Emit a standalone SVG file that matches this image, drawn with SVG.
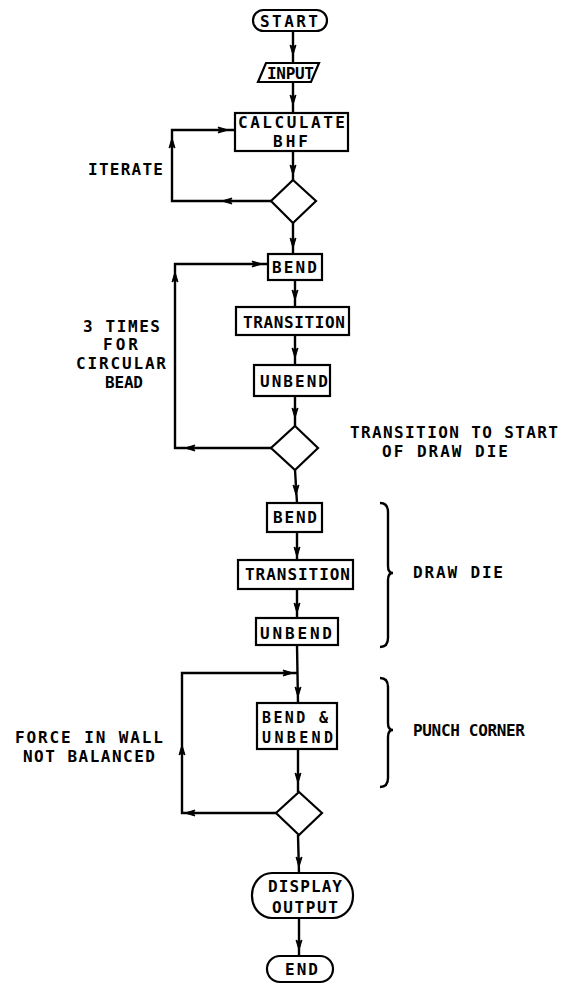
<svg xmlns="http://www.w3.org/2000/svg" xmlns:xlink="http://www.w3.org/1999/xlink" width="563" height="984" viewBox="0 0 563 984">
<style>
.bg{fill:#fff}
.n{fill:#fff;stroke:#000;stroke-width:2.2}
.c{fill:none;stroke:#000;stroke-width:2.4;stroke-linejoin:miter}
.t{font-family:"DejaVu Sans Mono","Liberation Mono",monospace;font-weight:bold;font-size:16px;fill:#000}
.s{font-size:15px}
</style>
<defs>
<path id="ah" d="M5,0 L-5,-3 L-3,0 L-5,3 Z" fill="#000" stroke="#000" stroke-width="1"/>
</defs>
<rect class="bg" x="0" y="0" width="563" height="984"/>
<g id="connectors">
<path class="c" d="M293,31 V63"/>
<path class="c" d="M293,82 V113"/>
<path class="c" d="M293,151 V180"/>
<path class="c" d="M271,201 H172 V130 H235"/>
<path class="c" d="M293,223 V254"/>
<path class="c" d="M295,280 V307"/>
<path class="c" d="M295,335 V365"/>
<path class="c" d="M295,396 V426"/>
<path class="c" d="M271,448 H175 V264 H268"/>
<path class="c" d="M295,470 L297,503"/>
<path class="c" d="M297,532 V560"/>
<path class="c" d="M297,589 V618"/>
<path class="c" d="M297,645 L298,703"/>
<path class="c" d="M276,813 H182 V673 H297"/>
<path class="c" d="M298,749 V792"/>
<path class="c" d="M298,835 L299,873"/>
<path class="c" d="M299,918 V956"/>
<use xlink:href="#ah" transform="translate(293,50) rotate(90)"/>
<use xlink:href="#ah" transform="translate(293,100) rotate(90)"/>
<use xlink:href="#ah" transform="translate(293,170) rotate(90)"/>
<use xlink:href="#ah" transform="translate(227,201) rotate(180)"/>
<use xlink:href="#ah" transform="translate(172,143) rotate(-90)"/>
<use xlink:href="#ah" transform="translate(223,130)"/>
<use xlink:href="#ah" transform="translate(293,243) rotate(90)"/>
<use xlink:href="#ah" transform="translate(295,295) rotate(90)"/>
<use xlink:href="#ah" transform="translate(295,353) rotate(90)"/>
<use xlink:href="#ah" transform="translate(295,413) rotate(90)"/>
<use xlink:href="#ah" transform="translate(190,448) rotate(180)"/>
<use xlink:href="#ah" transform="translate(175,277) rotate(-90)"/>
<use xlink:href="#ah" transform="translate(257,264)"/>
<use xlink:href="#ah" transform="translate(296,490) rotate(90)"/>
<use xlink:href="#ah" transform="translate(297,552) rotate(90)"/>
<use xlink:href="#ah" transform="translate(297,608) rotate(90)"/>
<use xlink:href="#ah" transform="translate(298,692) rotate(90)"/>
<use xlink:href="#ah" transform="translate(190,813) rotate(180)"/>
<use xlink:href="#ah" transform="translate(182,750) rotate(-90)"/>
<use xlink:href="#ah" transform="translate(288,673)"/>
<use xlink:href="#ah" transform="translate(298,778) rotate(90)"/>
<use xlink:href="#ah" transform="translate(299,862) rotate(90)"/>
<use xlink:href="#ah" transform="translate(299,945) rotate(90)"/>
</g>
<g id="start">
<rect class="n" x="253" y="10" width="74" height="21" rx="10.5"/>
<text class="t" x="260" y="27" textLength="58" lengthAdjust="spacing">START</text>
</g>
<g id="input">
<path class="n" d="M266,63 H319 L311,82 H258 Z"/>
<text class="t" x="267" y="79" textLength="47" lengthAdjust="spacing">INPUT</text>
</g>
<g id="calc">
<rect class="n" x="235" y="113" width="113" height="38"/>
<text class="t" x="238" y="128" textLength="107" lengthAdjust="spacing">CALCULATE</text>
<text class="t" x="273" y="147" textLength="35" lengthAdjust="spacing">BHF</text>
</g>
<g id="d1">
<path class="n" d="M293,180 L316,201 L293,223 L271,201 Z"/>
</g>
<g id="iterate">
<text class="t" x="88" y="175" textLength="75" lengthAdjust="spacing">ITERATE</text>
</g>
<g id="bend1">
<rect class="n" x="268" y="254" width="54" height="26"/>
<text class="t" x="272" y="273" textLength="45" lengthAdjust="spacing">BEND</text>
</g>
<g id="trans1">
<rect class="n" x="236" y="307" width="113" height="28"/>
<text class="t" x="243" y="328" textLength="102" lengthAdjust="spacing">TRANSITION</text>
</g>
<g id="unbend1">
<rect class="n" x="254" y="365" width="76" height="31"/>
<text class="t" x="260" y="387" textLength="68" lengthAdjust="spacing">UNBEND</text>
</g>
<g id="d2">
<path class="n" d="M295,426 L318,448 L295,470 L271,448 Z"/>
</g>
<g id="loop2label">
<text class="t" x="83" y="332" textLength="77" lengthAdjust="spacing">3 TIMES</text>
<text class="t" x="103" y="350" textLength="35" lengthAdjust="spacing">FOR</text>
<text class="t" x="76" y="369" textLength="90" lengthAdjust="spacing">CIRCULAR</text>
<text class="t" x="105" y="388" textLength="38" lengthAdjust="spacing">BEAD</text>
</g>
<g id="transLabel">
<text class="t" x="350" y="438" textLength="208" lengthAdjust="spacing">TRANSITION TO START</text>
<text class="t" x="382" y="457" textLength="126" lengthAdjust="spacing">OF DRAW DIE</text>
</g>
<g id="bend2">
<rect class="n" x="267" y="503" width="55" height="29"/>
<text class="t" x="273" y="523" textLength="44" lengthAdjust="spacing">BEND</text>
</g>
<g id="trans2">
<rect class="n" x="238" y="560" width="115" height="29"/>
<text class="t" x="245" y="580" textLength="105" lengthAdjust="spacing">TRANSITION</text>
</g>
<g id="unbend2">
<rect class="n" x="256" y="618" width="82" height="27"/>
<text class="t" x="260" y="639" textLength="72" lengthAdjust="spacing">UNBEND</text>
</g>
<g id="drawdie">
<path class="c" stroke-width="2" d="M380,503 Q388,503 388,512 V566 Q388,573 393,573 Q388,573 388,580 V638 Q388,647 380,647"/>
<text class="t" x="413" y="578" textLength="90" lengthAdjust="spacing">DRAW DIE</text>
</g>
<g id="bendunbend">
<rect class="n" x="257" y="703" width="80" height="46"/>
<text class="t s" x="262" y="723" textLength="66" lengthAdjust="spacing">BEND &amp;</text>
<text class="t s" x="262" y="743" textLength="71" lengthAdjust="spacing">UNBEND</text>
</g>
<g id="punch">
<path class="c" stroke-width="2" d="M380,678 Q388,678 388,687 V723 Q388,730 393,730 Q388,730 388,737 V778 Q388,787 380,787"/>
<text class="t" x="413" y="736" textLength="112" lengthAdjust="spacing">PUNCH CORNER</text>
</g>
<g id="forcelabel">
<text class="t" x="15" y="743" textLength="148" lengthAdjust="spacing">FORCE IN WALL</text>
<text class="t" x="23" y="762" textLength="132" lengthAdjust="spacing">NOT BALANCED</text>
</g>
<g id="d3">
<path class="n" d="M299,792 L322,813 L299,835 L276,813 Z"/>
</g>
<g id="display">
<rect class="n" x="252" y="873" width="101" height="45" rx="20" ry="22"/>
<text class="t" x="268" y="892" textLength="74" lengthAdjust="spacing">DISPLAY</text>
<text class="t" x="272" y="913" textLength="66" lengthAdjust="spacing">OUTPUT</text>
</g>
<g id="end">
<rect class="n" x="267" y="956" width="66" height="26" rx="13"/>
<text class="t" x="285" y="975" textLength="33" lengthAdjust="spacing">END</text>
</g>
</svg>
